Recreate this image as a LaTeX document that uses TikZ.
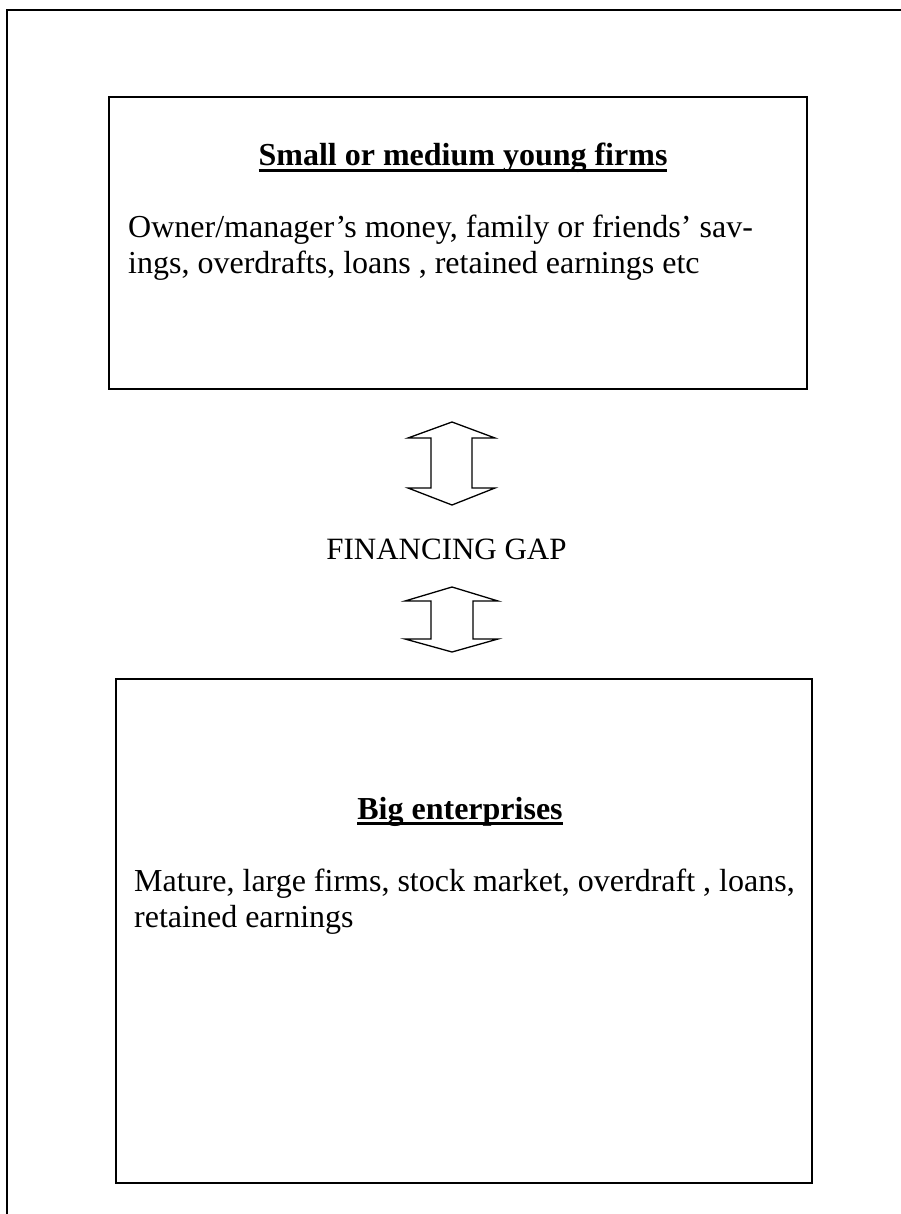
\documentclass[tikz,border=0pt]{standalone}
\usepackage{fontspec}
\setmainfont{Liberation Serif}
\newcommand\thickul[1]{\setbox0=\hbox{#1}\rlap{\rule[-6pt]{\wd0}{2.6pt}}\box0}
\begin{document}
\begin{tikzpicture}[x=1pt,y=-1pt]
\tikzset{
  frame/.style={line width=2pt},
  boxst/.style={draw, line width=2pt, inner sep=0pt},
  ttl/.style={font=\fontsize{32}{36}\selectfont\bfseries, inner sep=0pt, anchor=base},
  bodytxt/.style={font=\fontsize{32}{36}\selectfont, align=left, anchor=base west, inner sep=0pt},
  gap/.style={font=\fontsize{31}{34}\selectfont, inner sep=0pt, anchor=base},
  arr/.style={draw, line width=1.3pt, line join=miter}
}
\useasboundingbox (0,0) rectangle (901,1214);
\draw[frame] (7,1214) -- (7,10) -- (901,10);
% top box
\node[boxst, minimum width=698pt, minimum height=292pt] (top) at (458,243) {};
\node[ttl] (toptitle) at (463,166) {\thickul{Small or medium young firms}};
\node[bodytxt] (topl1) at (128,238) {Owner/manager’s money, family or friends’ sav-};
\node[bodytxt] (topl2) at (128,274) {ings, overdrafts, loans , retained earnings etc};
% upper double arrow
\draw[arr] (452,422) -- (495,438) -- (472,438) -- (472,488) -- (495,488) -- (452,505)
  -- (408,488) -- (431,488) -- (431,438) -- (408,438) -- cycle;
\node[gap] (gaptext) at (446.5,559) {FINANCING GAP};
% lower double arrow
\draw[arr] (452,587) -- (498,601) -- (473,601) -- (473,639) -- (498,639) -- (452,652)
  -- (405,639) -- (431,639) -- (431,601) -- (405,601) -- cycle;
% bottom box
\node[boxst, minimum width=696pt, minimum height=504pt] (bottom) at (464,931) {};
\node[ttl] (bottitle) at (460,819) {\thickul{Big enterprises}};
\node[bodytxt] (botl1) at (134,891) {Mature, large firms, stock market, overdraft , loans,};
\node[bodytxt] (botl2) at (134,927) {retained earnings};
\end{tikzpicture}
\end{document}
